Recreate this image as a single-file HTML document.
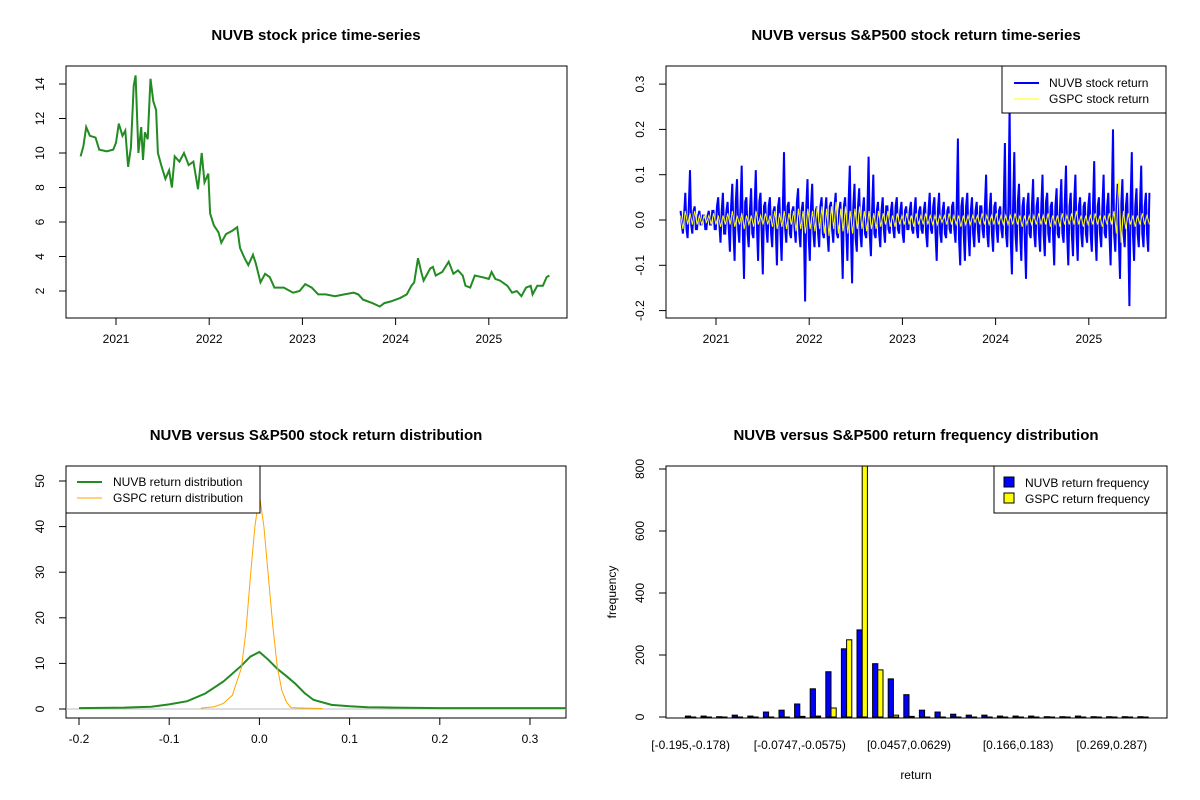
<!DOCTYPE html>
<html><head><meta charset="utf-8"><style>
body{margin:0;background:#fff}
svg{display:block;font-family:"Liberation Sans",Arial,sans-serif}
</style></head><body>
<svg id="c" width="1200" height="800" viewBox="0 0 1200 800">
<rect width="1200" height="800" fill="#fff"/>
<g font-weight="bold" font-size="15" text-anchor="middle">
<text x="316" y="40">NUVB stock price time-series</text>
<text x="916" y="40">NUVB versus S&amp;P500 stock return time-series</text>
<text x="316" y="440">NUVB versus S&amp;P500 stock return distribution</text>
<text x="916" y="440">NUVB versus S&amp;P500 return frequency distribution</text>
</g>
<g id="p1"></g>
<g id="p2"></g>
<g id="p3"></g>
<g id="p4"></g>
</svg>
<script>
const priceDates=[2020.62,2020.65,2020.68,2020.72,2020.78,2020.82,2020.9,2020.97,2021.0,2021.03,2021.07,2021.1,2021.13,2021.16,2021.19,2021.21,2021.24,2021.27,2021.29,2021.31,2021.34,2021.37,2021.40,2021.43,2021.45,2021.49,2021.53,2021.57,2021.6,2021.63,2021.68,2021.73,2021.78,2021.83,2021.88,2021.92,2021.95,2021.99,2022.01,2022.05,2022.1,2022.13,2022.18,2022.25,2022.3,2022.33,2022.38,2022.42,2022.47,2022.5,2022.55,2022.6,2022.65,2022.7,2022.8,2022.9,2022.97,2023.03,2023.1,2023.17,2023.25,2023.35,2023.45,2023.55,2023.6,2023.65,2023.75,2023.83,2023.88,2023.95,2024.05,2024.12,2024.17,2024.2,2024.24,2024.28,2024.3,2024.37,2024.4,2024.43,2024.5,2024.57,2024.62,2024.67,2024.72,2024.75,2024.8,2024.85,2024.93,2025.0,2025.03,2025.07,2025.12,2025.2,2025.25,2025.3,2025.35,2025.4,2025.45,2025.47,2025.52,2025.58,2025.62,2025.65];
const priceValues=[9.8,10.4,11.5,11.0,10.9,10.2,10.1,10.2,10.6,11.7,11.0,11.3,9.2,10.3,13.9,14.5,10.0,11.5,9.6,11.2,10.8,14.3,13.0,12.5,10.0,9.2,8.5,9.0,8.0,9.8,9.5,10.0,9.3,9.5,7.9,10.0,8.3,8.8,6.5,5.8,5.4,4.8,5.3,5.5,5.7,4.5,3.9,3.5,4.1,3.6,2.5,3.0,2.8,2.2,2.2,1.9,2.0,2.4,2.2,1.8,1.8,1.7,1.8,1.9,1.8,1.5,1.3,1.1,1.3,1.4,1.6,1.8,2.3,2.5,3.9,3.0,2.6,3.3,3.4,2.9,3.1,3.7,3.0,3.2,2.9,2.3,2.2,2.9,2.8,2.7,3.1,2.7,2.6,2.3,1.9,2.0,1.7,2.2,2.3,1.8,2.3,2.3,2.8,2.9];
const startYear=2020.62, endYear=2025.65;
const yearTicks=[2021,2022,2023,2024,2025];
const priceTicks=[2,4,6,8,10,12,14];
const nuvbReturns=[0.02,-0.01,-0.03,0.01,0.06,-0.02,-0.04,0.03,0.11,-0.01,-0.03,0.02,0.03,-0.02,-0.02,0.01,0.02,-0.01,-0.01,0.01,0.01,-0.02,-0.02,0.01,0.02,-0.01,-0.01,0.02,0.02,-0.02,-0.02,0.03,0.05,-0.01,-0.05,0.02,0.06,-0.03,-0.03,0.02,
0.04,-0.02,-0.07,0.03,0.08,-0.03,-0.09,0.04,0.09,-0.02,-0.05,0.03,0.12,-0.03,-0.13,0.04,0.05,-0.03,-0.06,0.02,0.07,-0.03,-0.04,0.03,0.11,-0.02,-0.09,0.04,0.06,-0.03,-0.12,0.03,0.04,-0.02,-0.05,0.03,0.05,-0.03,-0.06,0.02,
0.03,-0.02,-0.1,0.03,0.05,-0.03,-0.09,0.02,0.15,-0.02,-0.05,0.03,0.04,-0.03,-0.04,0.02,0.03,-0.02,-0.05,0.04,0.07,-0.03,-0.06,0.02,0.04,-0.03,-0.18,0.03,0.09,-0.04,-0.09,0.03,0.08,-0.03,-0.06,0.02,0.03,-0.03,-0.06,0.03,
0.05,-0.03,-0.04,0.02,0.05,-0.03,-0.07,0.03,0.04,-0.02,-0.05,0.03,0.06,-0.03,-0.04,0.02,0.04,-0.03,-0.13,0.03,0.05,-0.02,-0.09,0.04,0.12,-0.03,-0.14,0.03,0.08,-0.04,-0.07,0.03,0.07,-0.03,-0.06,0.02,0.05,-0.03,-0.04,0.02,
0.14,-0.03,-0.08,0.02,0.1,-0.03,-0.04,0.02,0.04,-0.03,-0.06,0.02,0.05,-0.02,-0.05,0.03,0.03,-0.02,-0.03,0.02,0.04,-0.02,-0.04,0.03,0.05,-0.02,-0.03,0.02,0.04,-0.03,-0.05,0.02,0.03,-0.02,-0.02,0.02,0.04,-0.02,-0.03,0.02,
0.05,-0.02,-0.04,0.02,0.03,-0.02,-0.03,0.02,0.04,-0.03,-0.06,0.02,0.06,-0.02,-0.03,0.03,0.05,-0.03,-0.09,0.02,0.06,-0.03,-0.05,0.02,0.04,-0.03,-0.04,0.02,0.03,-0.02,-0.03,0.03,0.04,-0.02,-0.05,0.03,0.18,-0.04,-0.1,0.03,
0.05,-0.03,-0.09,0.03,0.06,-0.03,-0.08,0.02,0.05,-0.03,-0.06,0.02,0.04,-0.02,-0.05,0.03,0.03,-0.02,-0.04,0.03,0.1,-0.03,-0.06,0.02,0.06,-0.03,-0.07,0.03,0.04,-0.02,-0.05,0.02,0.03,-0.02,-0.04,0.03,0.17,-0.03,-0.06,0.03,
0.25,-0.04,-0.12,0.03,0.15,-0.03,-0.07,0.04,0.08,-0.03,-0.09,0.03,0.05,-0.04,-0.13,0.03,0.06,-0.03,-0.04,0.03,0.09,-0.03,-0.06,0.03,0.05,-0.03,-0.07,0.03,0.1,-0.03,-0.08,0.04,0.06,-0.03,-0.05,0.03,0.04,-0.03,-0.1,0.03,
0.07,-0.03,-0.04,0.03,0.09,-0.03,-0.05,0.04,0.12,-0.03,-0.1,0.03,0.06,-0.03,-0.08,0.04,0.1,-0.03,-0.09,0.03,0.05,-0.03,-0.06,0.03,0.04,-0.03,-0.05,0.03,0.06,-0.03,-0.07,0.03,0.13,-0.03,-0.09,0.03,0.05,-0.03,-0.06,0.03,
0.1,-0.03,-0.04,0.03,0.06,-0.03,-0.1,0.04,0.2,-0.03,-0.07,0.03,0.08,-0.04,-0.13,0.03,0.09,-0.03,-0.06,0.03,0.06,-0.03,-0.19,0.04,0.15,-0.03,-0.09,0.03,0.07,-0.03,-0.06,0.03,0.12,-0.03,-0.06,0.03,0.06,-0.03,-0.07,0.06];
const gspcReturns=[0.01,-0.02,0.02,-0.01,0.015,-0.01,0.02,-0.01,0.01,-0.01,0.01,-0.005,0.01,-0.01,0.015,-0.01,0.01,-0.015,0.01,-0.01,
0.015,-0.01,0.02,-0.015,0.01,-0.01,0.015,-0.02,0.01,-0.01,0.01,-0.015,0.02,-0.01,0.01,-0.01,0.015,-0.01,0.01,-0.015,
0.02,-0.02,0.015,-0.015,0.02,-0.02,0.015,-0.01,0.02,-0.025,0.025,-0.02,0.02,-0.03,0.025,-0.02,0.02,-0.025,0.03,-0.02,
0.03,-0.03,0.025,-0.035,0.03,-0.02,0.04,-0.03,0.025,-0.025,0.03,-0.03,0.02,-0.03,0.025,-0.02,0.03,-0.02,0.02,-0.025,
0.02,-0.02,0.015,-0.02,0.02,-0.015,0.015,-0.01,0.02,-0.015,0.01,-0.015,0.015,-0.01,0.01,-0.01,0.015,-0.01,0.01,-0.015,
0.015,-0.01,0.01,-0.01,0.015,-0.01,0.01,-0.01,0.01,-0.01,0.01,-0.005,0.01,-0.01,0.015,-0.01,0.01,-0.01,0.01,-0.015,
0.01,-0.01,0.01,-0.01,0.01,-0.005,0.01,-0.01,0.015,-0.01,0.01,-0.01,0.01,-0.01,0.015,-0.01,0.01,-0.01,0.01,-0.01,
0.01,-0.01,0.015,-0.01,0.01,-0.015,0.01,-0.01,0.01,-0.01,0.01,-0.01,0.015,-0.01,0.01,-0.01,0.015,-0.015,0.01,-0.01,
0.01,-0.015,0.015,-0.01,0.01,-0.01,0.015,-0.01,0.02,-0.01,0.01,-0.015,0.01,-0.01,0.01,-0.01,0.015,-0.01,0.01,-0.015,
0.01,-0.01,0.015,-0.01,0.02,-0.03,0.09,-0.05,0.02,-0.02,0.015,-0.01,0.01,-0.015,0.01,-0.01,0.015,-0.01,0.01,-0.01];
const returnTicks=[-0.2,-0.1,0.0,0.1,0.2,0.3];
const nuvbDensX=[-0.2,-0.15,-0.12,-0.1,-0.08,-0.06,-0.04,-0.02,-0.01,0,0.01,0.02,0.03,0.04,0.05,0.06,0.08,0.1,0.12,0.15,0.2,0.34];
const nuvbDensY=[0.2,0.3,0.5,1.0,1.7,3.4,6.0,9.5,11.5,12.5,10.8,8.8,7.2,5.5,3.5,2.0,0.9,0.6,0.4,0.3,0.2,0.2];
const gspcDensX=[-0.065,-0.05,-0.04,-0.03,-0.02,-0.015,-0.01,-0.005,0,0.005,0.01,0.015,0.02,0.025,0.03,0.035,0.05,0.07];
const gspcDensY=[0.2,0.5,1.2,3,9,17,29,40,47,40,29,18,9,4,1.5,0.3,0.2,0.1];
const densXTicks=[-0.2,-0.1,0.0,0.1,0.2,0.3];
const densYTicks=[0,10,20,30,40,50];
const nuvbFreq=[3,3,1,6,3,16,22,42,91,146,220,281,172,123,72,22,16,9,6,6,3,3,3,1,1,3,1,1,1,1];
const gspcFreq=[0,0,0,0,0,0,0,2,3,29,249,840,152,6,2,0,0,0,0,0,0,0,0,0,0,0,0,0,0,0];
const binLabels={0:"[-0.195,-0.178)",7:"[-0.0747,-0.0575)",14:"[0.0457,0.0629)",21:"[0.166,0.183)",27:"[0.269,0.287)"};
const freqTicks=[0,200,400,600,800];

const NS="http://www.w3.org/2000/svg";
function mk(parent,tag,attrs,txt){const e=document.createElementNS(NS,tag);for(const k in attrs)e.setAttribute(k,attrs[k]);if(txt!==undefined)e.textContent=txt;parent.appendChild(e);return e;}
function box(g,x0,x1,y0,y1){const r=mk(g,'rect',{x:x0,y:y0,width:x1-x0,height:y1-y0,fill:'none',stroke:'#000','stroke-width':1});

}
function xTick(g,x,yb,label,ly){mk(g,'line',{x1:x,x2:x,y1:yb,y2:yb+7,stroke:'#000'});
const t=mk(g,'text',{x:x,y:ly,'font-size':12,'text-anchor':'middle'},label);

}
function yTick(g,xl,y,label,lx){mk(g,'line',{x1:xl,x2:xl-7,y1:y,y2:y,stroke:'#000'});
const t=mk(g,'text',{x:lx,y:y,'font-size':12,'text-anchor':'middle',transform:`rotate(-90 ${lx} ${y})`},label);

}
function line(g,pts,color,w,name){const p=mk(g,'polyline',{points:pts.map(p=>p[0].toFixed(1)+','+p[1].toFixed(1)).join(' '),fill:'none',stroke:color,'stroke-width':w,'stroke-linejoin':'miter'});


return p;}

// Panel 1
(function(){const g=document.getElementById('p1');
const X=y=>116+(y-2021)*93.2, Y=v=>291-(v-2)*17.25;
box(g,66,567,66,318);
yearTicks.forEach(t=>xTick(g,X(t),318,String(t),343));
priceTicks.forEach(t=>yTick(g,66,Y(t),String(t),44));
line(g,priceValues.map((v,i)=>[X(priceDates[i]),Y(v)]),'#228b22',2,'price-line');
})();

// Panel 2
(function(){const g=document.getElementById('p2');
const X=y=>716+(y-2021)*93.2, Y=v=>220-v*453;
box(g,666,1166,66,318);
yearTicks.forEach(t=>xTick(g,X(t),318,String(t),343));
returnTicks.forEach(t=>yTick(g,666,Y(t),t.toFixed(1),644));
const n=nuvbReturns.length,m=gspcReturns.length;
line(g,nuvbReturns.map((v,i)=>[X(startYear+(endYear-startYear)*i/(n-1)),Y(v)]),'#0000ff',2,'nuvb-return-line');
line(g,gspcReturns.map((v,i)=>[X(startYear+(endYear-startYear)*i/(m-1)),Y(v)]),'#ffff00',1,'gspc-return-line');
const lg=mk(g,'g',{});


mk(lg,'rect',{x:1002,y:66,width:164,height:47,fill:'#fff',stroke:'#000'});
mk(lg,'line',{x1:1014,x2:1039,y1:83,y2:83,stroke:'#0000ff','stroke-width':2});
mk(lg,'line',{x1:1014,x2:1039,y1:99,y2:99,stroke:'#ffff00','stroke-width':1});
mk(lg,'text',{x:1049,y:87,'font-size':12},'NUVB stock return');
mk(lg,'text',{x:1049,y:103,'font-size':12},'GSPC stock return');
})();

// Panel 3
(function(){const g=document.getElementById('p3');
const X=v=>79+(v+0.2)*902, Y=v=>709-v*4.56;
box(g,66,566,466,718);
densXTicks.forEach(t=>xTick(g,X(t),718,t.toFixed(1),743));
densYTicks.forEach(t=>yTick(g,66,Y(t),String(t),44));
const z=mk(g,'line',{x1:66,x2:566,y1:Y(0),y2:Y(0),stroke:'#bebebe'});


line(g,nuvbDensX.map((x,i)=>[X(x),Y(nuvbDensY[i])]),'#228b22',2,'nuvb-density');
line(g,gspcDensX.map((x,i)=>[X(x),Y(gspcDensY[i])]),'#ffa500',1,'gspc-density');
const lg=mk(g,'g',{});


mk(lg,'rect',{x:66,y:466,width:194,height:47,fill:'#fff',stroke:'#000'});
mk(lg,'line',{x1:77,x2:102,y1:482,y2:482,stroke:'#228b22','stroke-width':2});
mk(lg,'line',{x1:77,x2:102,y1:498,y2:498,stroke:'#ffa500','stroke-width':1});
mk(lg,'text',{x:113,y:486,'font-size':12},'NUVB return distribution');
mk(lg,'text',{x:113,y:502,'font-size':12},'GSPC return distribution');
})();

// Panel 4
(function(){const g=document.getElementById('p4');
const G=i=>688+5.2/2+i*15.6, Y=v=>717-v*0.31;
const cl=mk(g,'clipPath',{id:'cp4'});mk(cl,'rect',{x:666,y:466,width:501,height:252});
const bars=mk(g,'g',{'clip-path':'url(#cp4)'});
nuvbFreq.forEach((v,i)=>{const r=mk(bars,'rect',{x:G(i)-5.2,y:Y(v),width:5.2,height:Math.max(v*0.31,0.6),fill:'#0000ff',stroke:'#000','stroke-width':1});

});
gspcFreq.forEach((v,i)=>{const r=mk(bars,'rect',{x:G(i),y:Y(v),width:5.2,height:Math.max(v*0.31,0.6),fill:'#ffff00',stroke:'#000','stroke-width':1});

});
box(g,666,1167,466,718);
for(const k in binLabels){const t=mk(g,'text',{x:G(+k),y:749,'font-size':12,'text-anchor':'middle'},binLabels[k]);

}
freqTicks.forEach(t=>yTick(g,666,Y(t),String(t),644));
const xt=mk(g,'text',{x:916,y:779,'font-size':12,'text-anchor':'middle'},'return');


const yt=mk(g,'text',{x:616,y:592,'font-size':12,'text-anchor':'middle',transform:'rotate(-90 616 592)'},'frequency');


const lg=mk(g,'g',{});


mk(lg,'rect',{x:994,y:466,width:173,height:47,fill:'#fff',stroke:'#000'});
mk(lg,'rect',{x:1004,y:477,width:10,height:10,fill:'#0000ff',stroke:'#000'});
mk(lg,'rect',{x:1004,y:493,width:10,height:10,fill:'#ffff00',stroke:'#000'});
mk(lg,'text',{x:1025,y:487,'font-size':12},'NUVB return frequency');
mk(lg,'text',{x:1025,y:503,'font-size':12},'GSPC return frequency');
})();
</script>
</body></html>
